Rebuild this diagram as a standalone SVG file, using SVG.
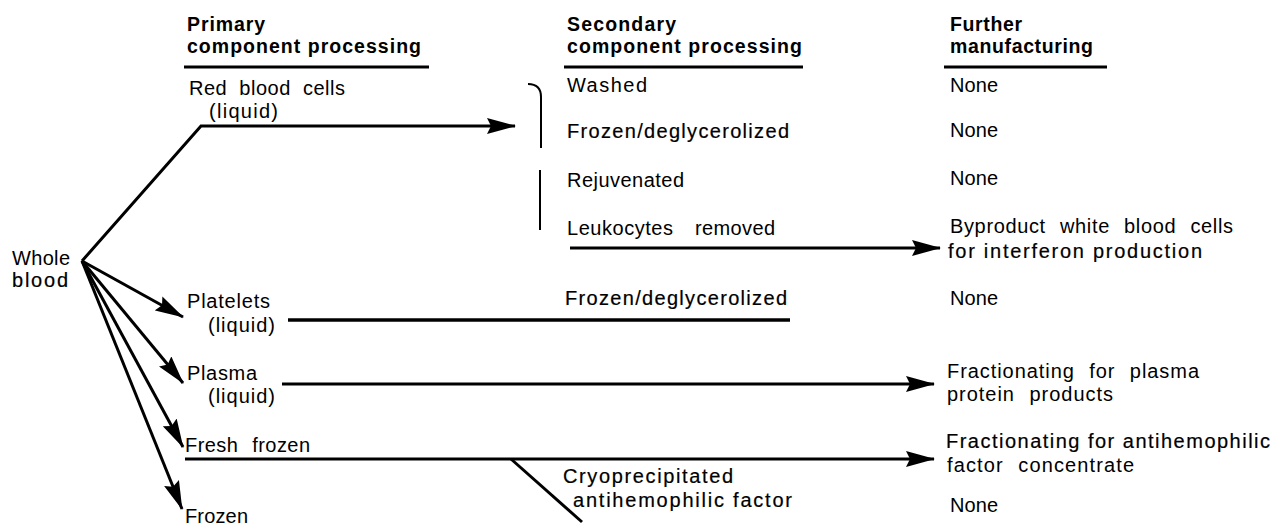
<svg xmlns="http://www.w3.org/2000/svg" width="1288" height="525" viewBox="0 0 1288 525">
<style>
text{font-family:"Liberation Sans",Arial,Helvetica,sans-serif;font-size:20px;fill:#000}
.h{font-weight:bold;font-size:19.5px}
.dk{stroke:#000;stroke-width:0.2}
.ln{stroke:#000;stroke-width:3;fill:none}
.thin{stroke:#000;stroke-width:2;fill:none}
</style>
<defs>
<marker id="ah" markerUnits="userSpaceOnUse" viewBox="0 0 29 16" markerWidth="29" markerHeight="16" refX="28" refY="8" orient="auto">
<path d="M0,0 L29,8 L0,16 L4,8 z" fill="#000"/>
</marker>
</defs>
<rect width="1288" height="525" fill="#fff"/>

<g id="headers">
<text class="h" x="187" y="31" textLength="78" lengthAdjust="spacing">Primary</text>
<text class="h" x="187" y="53" textLength="234" lengthAdjust="spacing">component processing</text>
<line class="ln" x1="184" y1="67" x2="429" y2="67"/>
<text class="h" x="567" y="31" textLength="109" lengthAdjust="spacing">Secondary</text>
<text class="h" x="567" y="53" textLength="235" lengthAdjust="spacing">component processing</text>
<line class="ln" x1="564" y1="67" x2="803" y2="67"/>
<text class="h" x="950" y="31" textLength="72" lengthAdjust="spacing">Further</text>
<text class="h" x="950" y="53" textLength="143" lengthAdjust="spacing">manufacturing</text>
<line class="ln" x1="944" y1="67" x2="1107" y2="67"/>
</g>

<g id="whole-blood">
<text x="12" y="265" textLength="58" lengthAdjust="spacing">Whole</text>
<text class="dk" x="12" y="287" textLength="56" lengthAdjust="spacing">blood</text>
</g>

<g id="red-blood-cells">
<text x="189" y="95" textLength="156" lengthAdjust="spacing" word-spacing="6">Red blood cells</text>
<text x="209" y="118" textLength="69" lengthAdjust="spacing">(liquid)</text>
</g>

<g id="rbc-secondary">
<path class="thin" d="M528,84 Q541,84 541,97 L541,148"/>
<line class="thin" x1="540" y1="170" x2="540" y2="230"/>
<text x="567" y="92" textLength="80" lengthAdjust="spacing">Washed</text>
<text class="dk" x="567" y="138" textLength="222" lengthAdjust="spacing">Frozen/deglycerolized</text>
<text x="567" y="187" textLength="117" lengthAdjust="spacing">Rejuvenated</text>
<text x="567" y="235"><tspan textLength="106" lengthAdjust="spacing">Leukocytes</tspan><tspan x="695" textLength="80" lengthAdjust="spacing">removed</tspan></text>
</g>

<g id="further-rbc">
<text x="950" y="92" textLength="48" lengthAdjust="spacing">None</text>
<text x="950" y="137" textLength="48" lengthAdjust="spacing">None</text>
<text x="950" y="185" textLength="48" lengthAdjust="spacing">None</text>
<text x="950" y="233" textLength="283" lengthAdjust="spacing" word-spacing="8">Byproduct white blood cells</text>
<text class="dk" x="948" y="258" textLength="254" lengthAdjust="spacing">for interferon production</text>
</g>

<g id="platelets">
<text x="187" y="308" textLength="83" lengthAdjust="spacing">Platelets</text>
<text x="208" y="332" textLength="67" lengthAdjust="spacing">(liquid)</text>
<text class="dk" x="565" y="305" textLength="222" lengthAdjust="spacing">Frozen/deglycerolized</text>
<text x="950" y="305" textLength="48" lengthAdjust="spacing">None</text>
</g>

<g id="plasma">
<text x="187" y="380" textLength="70" lengthAdjust="spacing">Plasma</text>
<text x="208" y="403" textLength="67" lengthAdjust="spacing">(liquid)</text>
<text x="947" y="378" textLength="252" lengthAdjust="spacing" word-spacing="8">Fractionating for plasma</text>
<text x="947" y="401" textLength="166" lengthAdjust="spacing" word-spacing="8">protein products</text>
</g>

<g id="fresh-frozen">
<text x="185" y="452" textLength="125" lengthAdjust="spacing" word-spacing="8">Fresh frozen</text>
<text class="dk" x="946" y="448" textLength="324" lengthAdjust="spacing">Fractionating for antihemophilic</text>
<text x="947" y="472" textLength="187" lengthAdjust="spacing" word-spacing="8">factor concentrate</text>
<text class="dk" x="563" y="483" textLength="170" lengthAdjust="spacing">Cryoprecipitated</text>
<text class="dk" x="573" y="507" textLength="219" lengthAdjust="spacing">antihemophilic factor</text>
</g>

<g id="frozen">
<text x="185" y="523" textLength="63" lengthAdjust="spacing">Frozen</text>
<text x="950" y="512" textLength="48" lengthAdjust="spacing">None</text>
</g>

<g id="connectors">
<polyline class="ln" points="82,261 201,126 515,126" marker-end="url(#ah)"/>
<line class="ln" x1="570" y1="248" x2="940" y2="248" marker-end="url(#ah)"/>
<line class="ln" x1="82" y1="261" x2="183" y2="317" marker-end="url(#ah)"/>
<line class="ln" x1="82" y1="261" x2="183" y2="383" marker-end="url(#ah)"/>
<line class="ln" x1="82" y1="261" x2="183" y2="447" marker-end="url(#ah)"/>
<line class="ln" x1="82" y1="261" x2="182" y2="509" marker-end="url(#ah)"/>
<line class="ln" x1="288" y1="320" x2="790" y2="320" style="stroke-width:3.5"/>
<line class="ln" x1="282" y1="384" x2="934" y2="384" marker-end="url(#ah)"/>
<line class="ln" x1="185" y1="459" x2="934" y2="459" marker-end="url(#ah)"/>
<line class="ln" x1="511" y1="459" x2="582" y2="522"/>
</g>
</svg>
